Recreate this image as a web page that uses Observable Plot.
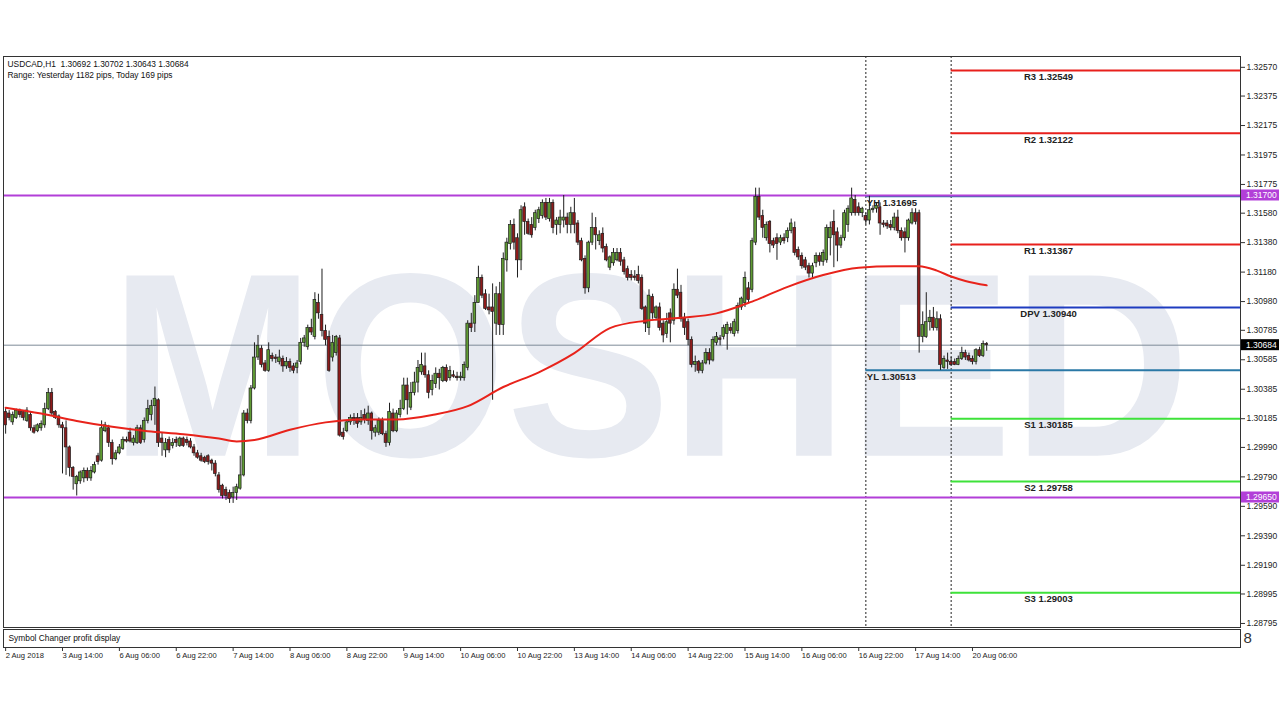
<!DOCTYPE html>
<html><head><meta charset="utf-8">
<script src="https://cdn.jsdelivr.net/npm/d3@7"></script>
<script src="https://cdn.jsdelivr.net/npm/@observablehq/plot@0.6"></script>
<style>
body{margin:0;background:#fff;}
#chart{width:1280px;height:720px;background:#fff;}
#chart svg{display:block;}
</style></head><body><div id="chart"></div>
<script>
// ---------- data ----------
const symbol = "USDCAD,H1";
const lastOHLC = [1.30692, 1.30702, 1.30643, 1.30684];
const rangeText = "Range: Yesterday 1182 pips, Today 169 pips";
const subWindowTitle = "Symbol Changer profit display";
const watermark = "MOSHED";

const open = [
1.3023,1.3022,1.3016,1.3019,1.3024,1.3023,1.3017,1.3021,1.3012,1.3010,
1.3012,1.3014,1.3025,1.3036,1.3023,1.3020,1.3014,1.3012,1.2999,1.2985,
1.2974,1.2976,1.2978,1.2983,1.2978,1.2982,1.2993,1.2990,1.3010,1.3012,
1.3002,1.2991,1.2995,1.2998,1.3004,1.3009,1.3002,1.3002,1.3012,1.3004,
1.3017,1.3021,1.3027,1.3031,1.3005,1.2997,1.3004,1.3000,1.3004,1.3000,
1.3005,1.3004,1.3003,1.2999,1.2995,1.2993,1.2992,1.2993,1.2990,1.2988,
1.2980,1.2973,1.2970,1.2968,1.2965,1.2968,1.2971,1.2980,1.3022,1.3017,
1.3039,1.3060,1.3066,1.3056,1.3051,1.3061,1.3060,1.3057,1.3059,1.3054,
1.3057,1.3054,1.3053,1.3057,1.3070,1.3067,1.3080,1.3074,1.3097,1.3089,
1.3078,1.3074,1.3060,1.3063,1.3073,1.3009,1.3010,1.3016,1.3019,1.3019,
1.3016,1.3021,1.3017,1.3022,1.3009,1.3009,1.3017,1.3008,1.3002,1.3022,
1.3010,1.3021,1.3025,1.3041,1.3026,1.3036,1.3043,1.3050,1.3054,1.3048,
1.3038,1.3042,1.3049,1.3044,1.3053,1.3046,1.3048,1.3047,1.3046,1.3046,
1.3053,1.3083,1.3083,1.3097,1.3114,1.3103,1.3094,1.3094,1.3083,1.3103,
1.3082,1.3126,1.3137,1.3150,1.3141,1.3126,1.3162,1.3152,1.3150,1.3148,
1.3154,1.3156,1.3165,1.3154,1.3165,1.3150,1.3150,1.3153,1.3155,1.3150,
1.3158,1.3151,1.3139,1.3127,1.3107,1.3138,1.3148,1.3139,1.3144,1.3135,
1.3121,1.3124,1.3126,1.3131,1.3126,1.3120,1.3116,1.3115,1.3116,1.3114,
1.3094,1.3080,1.3101,1.3087,1.3094,1.3083,1.3076,1.3090,1.3085,1.3106,
1.3104,1.3087,1.3084,1.3072,1.3055,1.3057,1.3051,1.3056,1.3063,1.3058,
1.3070,1.3073,1.3074,1.3076,1.3080,1.3076,1.3078,1.3094,1.3097,1.3107,
1.3106,1.3138,1.3169,1.3156,1.3141,1.3152,1.3139,1.3141,1.3138,1.3141,
1.3141,1.3146,1.3148,1.3133,1.3129,1.3126,1.3122,1.3117,1.3124,1.3129,
1.3125,1.3126,1.3141,1.3152,1.3145,1.3136,1.3141,1.3150,1.3158,1.3167,
1.3162,1.3158,1.3156,1.3153,1.3160,1.3161,1.3162,1.3151,1.3151,1.3150,
1.3148,1.3155,1.3146,1.3145,1.3141,1.3151,1.3158,1.3158,1.3074,1.3074,
1.3084,1.3087,1.3080,1.3086,1.3053,1.3058,1.3057,1.3057,1.3055,1.3059,
1.3063,1.3061,1.3059,1.3057,1.3065,1.3061,1.30692];

const high = [
1.3026,1.3024,1.3023,1.3025,1.3025,1.3024,1.3026,1.3023,1.3014,1.3015,
1.3017,1.3029,1.3039,1.3039,1.3024,1.3021,1.3016,1.3017,1.3000,1.2986,
1.2980,1.2983,1.2985,1.2985,1.2986,1.2989,1.2995,1.3017,1.3016,1.3014,
1.3004,1.2997,1.3001,1.3006,1.3006,1.3012,1.3007,1.3014,1.3014,1.3019,
1.3031,1.3031,1.3040,1.3032,1.3009,1.3005,1.3006,1.3005,1.3006,1.3006,
1.3006,1.3006,1.3005,1.3001,1.2997,1.2995,1.2993,1.2994,1.2991,1.2990,
1.2982,1.2974,1.2972,1.2970,1.2972,1.2974,1.2993,1.3024,1.3025,1.3041,
1.3070,1.3075,1.3068,1.3058,1.3070,1.3063,1.3062,1.3065,1.3061,1.3060,
1.3059,1.3056,1.3058,1.3073,1.3075,1.3082,1.3086,1.3104,1.3103,1.3120,
1.3082,1.3078,1.3075,1.3075,1.3075,1.3012,1.3017,1.3021,1.3022,1.3022,
1.3024,1.3025,1.3027,1.3023,1.3014,1.3019,1.3019,1.3010,1.3029,1.3025,
1.3024,1.3031,1.3046,1.3046,1.3043,1.3050,1.3058,1.3063,1.3063,1.3051,
1.3048,1.3053,1.3052,1.3054,1.3055,1.3054,1.3051,1.3050,1.3050,1.3057,
1.3085,1.3090,1.3102,1.3122,1.3116,1.3106,1.3103,1.3110,1.3108,1.3111,
1.3131,1.3141,1.3153,1.3154,1.3144,1.3163,1.3165,1.3154,1.3155,1.3160,
1.3162,1.3167,1.3168,1.3168,1.3167,1.3155,1.3160,1.3170,1.3158,1.3162,
1.3168,1.3153,1.3141,1.3129,1.3139,1.3158,1.3155,1.3146,1.3148,1.3137,
1.3129,1.3134,1.3134,1.3134,1.3128,1.3122,1.3119,1.3119,1.3122,1.3116,
1.3095,1.3106,1.3103,1.3095,1.3097,1.3085,1.3090,1.3093,1.3110,1.3120,
1.3109,1.3090,1.3086,1.3074,1.3061,1.3058,1.3058,1.3066,1.3066,1.3074,
1.3077,1.3075,1.3082,1.3084,1.3083,1.3086,1.3097,1.3101,1.3118,1.3111,
1.3141,1.3175,1.3175,1.3160,1.3152,1.3153,1.3141,1.3144,1.3143,1.3144,
1.3148,1.3154,1.3152,1.3135,1.3131,1.3128,1.3124,1.3124,1.3131,1.3131,
1.3133,1.3150,1.3152,1.3160,1.3148,1.3143,1.3160,1.3163,1.3175,1.3170,
1.3165,1.3162,1.3158,1.31695,1.3163,1.3165,1.3165,1.3153,1.3153,1.3153,
1.3158,1.3160,1.3148,1.3148,1.3154,1.3161,1.3161,1.3160,1.3091,1.3104,
1.3092,1.3094,1.3091,1.3089,1.3061,1.3063,1.3060,1.3059,1.3061,1.3067,
1.3065,1.3063,1.3061,1.3066,1.3067,1.30712,1.30702];

const low = [
1.3008,1.3017,1.3014,1.3018,1.3019,1.3017,1.3016,1.3010,1.3008,1.3009,
1.3010,1.3012,1.3024,1.3020,1.3018,1.3012,1.2981,1.2980,1.2979,1.2970,
1.2966,1.2974,1.2975,1.2976,1.2976,1.2981,1.2987,1.2989,1.3009,1.2999,
1.2987,1.2990,1.2994,1.2997,1.3002,1.3002,1.3000,1.3001,1.3001,1.3002,
1.3015,1.3017,1.3014,1.2999,1.2993,1.2992,1.2995,1.2998,1.2999,1.2999,
1.2999,1.3000,1.2998,1.2993,1.2991,1.2989,1.2988,1.2987,1.2983,1.2979,
1.2968,1.2964,1.2963,1.2961,1.2961,1.2963,1.2970,1.2979,1.3015,1.3015,
1.3038,1.3058,1.3053,1.3050,1.3050,1.3057,1.3056,1.3055,1.3050,1.3052,
1.3050,1.3049,1.3049,1.3055,1.3067,1.3065,1.3075,1.3072,1.3086,1.3074,
1.3068,1.3050,1.3057,1.3061,1.3006,1.3004,1.3009,1.3014,1.3014,1.3012,
1.3014,1.3015,1.3014,1.3004,1.3006,1.3007,1.3007,1.2999,1.3000,1.3009,
1.3009,1.3019,1.3024,1.3021,1.3024,1.3034,1.3036,1.3048,1.3046,1.3032,
1.3034,1.3039,1.3038,1.3043,1.3043,1.3044,1.3046,1.3044,1.3044,1.3044,
1.3051,1.3077,1.3077,1.3097,1.3100,1.3092,1.3089,1.3031,1.3075,1.3075,
1.3075,1.3118,1.3133,1.3133,1.3114,1.3119,1.3143,1.3143,1.3141,1.3146,
1.3151,1.3154,1.3153,1.3152,1.3144,1.3143,1.3144,1.3148,1.3144,1.3144,
1.3144,1.3136,1.3125,1.3103,1.3104,1.3136,1.3133,1.3136,1.3131,1.3125,
1.3119,1.3122,1.3125,1.3122,1.3116,1.3112,1.3112,1.3112,1.3110,1.3092,
1.3077,1.3075,1.3086,1.3085,1.3078,1.3070,1.3073,1.3070,1.3082,1.3100,
1.3084,1.3075,1.3068,1.3053,1.3050,1.3049,1.3049,1.3055,1.3055,1.3057,
1.3068,1.3068,1.3072,1.3065,1.3076,1.3074,1.3076,1.3092,1.3094,1.3097,
1.3104,1.3136,1.3153,1.3141,1.3139,1.3131,1.3134,1.3126,1.3136,1.3137,
1.3138,1.3144,1.3129,1.3126,1.3120,1.3119,1.3114,1.3114,1.3121,1.3122,
1.3122,1.3124,1.3129,1.3121,1.3125,1.3134,1.3139,1.3145,1.3156,1.3156,
1.3156,1.3155,1.3150,1.3150,1.3158,1.3158,1.3143,1.3148,1.3147,1.3146,
1.3146,1.3144,1.3139,1.3131,1.3139,1.3150,1.3150,1.3063,1.3070,1.3073,
1.3078,1.3078,1.3078,1.30513,1.3052,1.3052,1.30543,1.30545,1.30545,1.3058,
1.3058,1.3057,1.3055,1.3055,1.3060,1.3060,1.30643];

const close = [
1.3014,1.3019,1.3021,1.3024,1.3021,1.3019,1.3024,1.3012,1.3009,1.3014,
1.3015,1.3025,1.3036,1.3022,1.3019,1.3014,1.3012,1.2999,1.2985,1.2979,
1.2979,1.2982,1.2983,1.2978,1.2983,1.2987,1.2989,1.3012,1.3014,1.3002,
1.2991,1.2995,1.2999,1.3004,1.3003,1.3003,1.3005,1.3012,1.3002,1.3017,
1.3025,1.3027,1.3032,1.3002,1.3002,1.3002,1.2997,1.3002,1.3002,1.3005,
1.3000,1.3002,1.2999,1.2995,1.2992,1.2990,1.2989,1.2989,1.2988,1.2981,
1.2970,1.2966,1.2966,1.2964,1.2968,1.2972,1.2980,1.3022,1.3017,1.3039,
1.3060,1.3068,1.3055,1.3051,1.3065,1.3059,1.3059,1.3060,1.3054,1.3057,
1.3053,1.3051,1.3056,1.3070,1.3073,1.3080,1.3077,1.3099,1.3090,1.3078,
1.3072,1.3051,1.3070,1.3074,1.3007,1.3006,1.3016,1.3019,1.3017,1.3015,
1.3019,1.3018,1.3022,1.3010,1.3012,1.3017,1.3008,1.3002,1.3023,1.3010,
1.3022,1.3025,1.3041,1.3031,1.3036,1.3043,1.3053,1.3055,1.3048,1.3036,
1.3044,1.3049,1.3046,1.3053,1.3044,1.3051,1.3047,1.3046,1.3047,1.3055,
1.3083,1.3080,1.3097,1.3114,1.3102,1.3093,1.3092,1.3091,1.3103,1.3082,
1.3127,1.3138,1.3150,1.3138,1.3126,1.3160,1.3152,1.3144,1.3143,1.3158,
1.3160,1.3165,1.3155,1.3165,1.3148,1.3153,1.3155,1.3155,1.3150,1.3158,
1.3150,1.3138,1.3126,1.3107,1.3138,1.3148,1.3143,1.3143,1.3134,1.3126,
1.3128,1.3131,1.3131,1.3125,1.3118,1.3114,1.3114,1.3114,1.3112,1.3093,
1.3083,1.3102,1.3090,1.3094,1.3080,1.3075,1.3084,1.3083,1.3106,1.3102,
1.3086,1.3080,1.3072,1.3055,1.3057,1.3051,1.3056,1.3063,1.3058,1.3072,
1.3074,1.3072,1.3080,1.3082,1.3078,1.3084,1.3095,1.3100,1.3114,1.3099,
1.3139,1.3169,1.3155,1.3148,1.3150,1.3137,1.3136,1.3137,1.3141,1.3139,
1.3146,1.3151,1.3131,1.3128,1.3122,1.3121,1.3117,1.3122,1.3129,1.3125,
1.3131,1.3148,1.3148,1.3143,1.3136,1.3141,1.3158,1.3161,1.3168,1.3158,
1.3158,1.3161,1.3153,1.3160,1.3161,1.3163,1.3151,1.3150,1.3149,1.3148,
1.3155,1.3146,1.3141,1.3141,1.3153,1.3158,1.3152,1.3074,1.3082,1.3084,
1.3087,1.3080,1.3086,1.3055,1.3059,1.3057,1.3055,1.3055,1.3059,1.3063,
1.3060,1.3058,1.3057,1.3065,1.3061,1.30692,1.30684];

// moving average (red line), sampled at bar indices
const maIdx = [0,10,20,30,40,50,60,65,70,80,90,100,110,120,130,140,150,160,170,180,190,200,210,220,230,240,250,257,262,266,270,276];
const maVal = [1.3026,1.3022,1.3017,1.3013,1.3010,1.3008,1.3005,1.3003,1.3004,1.3011,1.3016,1.3018,1.3018,1.3021,1.3027,1.3040,1.3050,1.3063,1.3080,1.3085,1.3087,1.3090,1.3098,1.3108,1.3116,1.3121,1.3122,1.3122,1.3119,1.3115,1.3112,1.3109];

// price axis ticks
const yTicks = [1.32570,1.32375,1.32175,1.31975,1.31775,1.31580,1.31380,1.31180,1.30980,1.30785,1.30585,1.30385,1.30185,1.29990,1.29790,1.29590,1.29390,1.29190,1.28995,1.28795];

// time axis
const timeTickIdx = [0,16,32,48,64,80,96,112,128,144,160,176,192,208,224,240,256,272];
const timeTickLabels = ["2 Aug 2018","3 Aug 14:00","6 Aug 06:00","6 Aug 22:00","7 Aug 14:00","8 Aug 06:00","8 Aug 22:00","9 Aug 14:00","10 Aug 06:00","10 Aug 22:00","13 Aug 14:00","14 Aug 06:00","14 Aug 22:00","15 Aug 14:00","16 Aug 06:00","16 Aug 22:00","17 Aug 14:00","20 Aug 06:00"];

// day separators (bar index of 17 Aug 00:00 and 20 Aug 00:00)
const separators = [242, 266];

// horizontal levels
const zoneLevels = [1.31700, 1.29650];
const pivotNames = ["R3","R2","R1","DPV","S1","S2","S3"];
const pivotValues = [1.32549,1.32122,1.31367,1.30940,1.30185,1.29758,1.29003];
const dayNames = ["YH","YL"];
const dayValues = [1.31695, 1.30513];

// ---------- layout / style ----------
const X_DOMAIN = [-0.6, 347.4];
const Y_DOMAIN = [1.287676, 1.326435];
const FONT = "Liberation Sans, Arial, sans-serif";
const PURPLE = "#b23fd8";
const fmt5 = d => d.toFixed(5);
const pivotColor = n => n.startsWith("R") ? "#e8201c" : n.startsWith("S") ? "#3ee23a" : "#1f3cc0";
const bodyHalf = 0.38;
const pivotStart = separators[1];
const dayStart = separators[0];
const pivotLabelX = 293.4;

const bars = open.map((o, i) => ({i, o, h: high[i], l: low[i], c: close[i]}));
const pivots = pivotNames.map((n, k) => ({n, v: pivotValues[k]}));
const days = dayNames.map((n, k) => ({n, v: dayValues[k]}));
const ma = maIdx.map((x, k) => ({x, y: maVal[k]}));

const header1 = `${symbol}\u00a0\u00a0${lastOHLC.map(fmt5).join(" ")}`;

const main = Plot.plot({
  width: 1280, height: 629,
  marginTop: 56, marginBottom: 2, marginLeft: 3, marginRight: 40,
  style: {fontFamily: FONT, fontSize: "8.5px", color: "#222", background: "#fff", overflow: "visible"},
  x: {domain: X_DOMAIN, axis: null},
  y: {domain: Y_DOMAIN, axis: null},
  color: {type: "identity"},
  marks: [
    Plot.text([watermark], {text: d => d, frameAnchor: "middle", fontSize: 262, fontWeight: "bold", fill: "#e7eaf1", dx: 28, dy: 30}),
    Plot.ruleY([lastOHLC[3]], {stroke: "#7d8a98", strokeWidth: 1}),
    Plot.ruleX(separators, {stroke: "#222", strokeWidth: 1, strokeDasharray: "2,2"}),
    Plot.ruleY(days, {y: "v", x1: dayStart, x2: X_DOMAIN[1], stroke: "#2a78a6", strokeWidth: 2}),
    Plot.ruleY(zoneLevels, {stroke: PURPLE, strokeWidth: 2}),
    Plot.ruleY(pivots, {y: "v", x1: pivotStart, x2: X_DOMAIN[1], stroke: d => pivotColor(d.n), strokeWidth: 2}),
    Plot.ruleX(bars, {x: "i", y1: "l", y2: "h", stroke: "#1e1e1e", strokeWidth: 1}),
    Plot.rect(bars, {x1: d => d.i - bodyHalf, x2: d => d.i + bodyHalf, y1: "o", y2: "c",
      fill: d => d.c >= d.o ? "#5f9a33" : "#8e1b1b", stroke: "#1e1e1e", strokeWidth: 0.7}),
    Plot.line(ma, {x: "x", y: "y", stroke: "#e8231b", strokeWidth: 2, curve: "monotone-x"}),
    Plot.text(pivots, {x: pivotLabelX, y: "v", text: d => `${d.n} ${fmt5(d.v)}`, fontWeight: "bold", fontSize: 9.5, fill: "#222", dy: 6.5}),
    Plot.text(days, {x: dayStart, y: "v", text: d => `${d.n} ${fmt5(d.v)}`, fontWeight: "bold", fontSize: 9.5, fill: "#222", textAnchor: "start", dx: 1, dy: 7}),
    Plot.text([header1], {text: d => d, frameAnchor: "top-left", dx: 4, dy: 5, fontSize: 8.4, fill: "#111"}),
    Plot.text([rangeText], {text: d => d, frameAnchor: "top-left", dx: 4, dy: 16, fontSize: 8.4, fill: "#111"}),
    Plot.axisY(yTicks, {anchor: "right", tickSize: 4, tickPadding: 2, tickFormat: fmt5, fontSize: 8.5, stroke: "#333"}),
    Plot.frame({stroke: "#333"})
  ]
});

// stretch watermark to its width
d3.select(main).selectAll("text").filter(function() { return this.textContent === watermark; })
  .attr("textLength", 1080).attr("lengthAdjust", "spacingAndGlyphs");

// highlighted price labels on the right axis
const ys = main.scale("y");
const xRight = 1280 - 40;
const hl = [{v: zoneLevels[0], bg: PURPLE}, {v: zoneLevels[1], bg: PURPLE}, {v: lastOHLC[3], bg: "#000"}];
const g = d3.select(main).append("g");
hl.forEach(h => {
  const y = ys.apply(h.v);
  g.append("rect").attr("x", xRight + 1).attr("y", y - 5.5).attr("width", 38).attr("height", 11).attr("fill", h.bg);
  g.append("text").attr("x", xRight + 6).attr("y", y).attr("dy", "0.35em").attr("fill", "#fff")
    .attr("text-anchor", "start").attr("font-size", 8.5).attr("font-family", FONT).text(fmt5(h.v));
});

const labelByIdx = new Map(timeTickIdx.map((t, k) => [t, timeTickLabels[k]]));
const sub = Plot.plot({
  width: 1280, height: 42,
  marginTop: 0, marginBottom: 24, marginLeft: 3, marginRight: 40,
  style: {fontFamily: FONT, fontSize: "8px", color: "#222", background: "#fff", overflow: "visible"},
  x: {domain: X_DOMAIN},
  y: {domain: [0, 1], axis: null},
  marks: [
    Plot.frame({stroke: "#333"}),
    Plot.text([subWindowTitle], {text: d => d, frameAnchor: "left", dx: 5, fontSize: 8.4, fill: "#111"}),
    Plot.text(["8"], {text: d => d, frameAnchor: "right", textAnchor: "start", dx: 3, fontSize: 15, fill: "#333"}),
    Plot.axisX(timeTickIdx, {anchor: "bottom", tickSize: 4, tickPadding: 1, textAnchor: "start", fontSize: 7.6, tickFormat: d => labelByIdx.get(d), stroke: "#333"})
  ]
});

const root = document.getElementById("chart");
root.appendChild(main);
root.appendChild(sub);
</script>
</body></html>
